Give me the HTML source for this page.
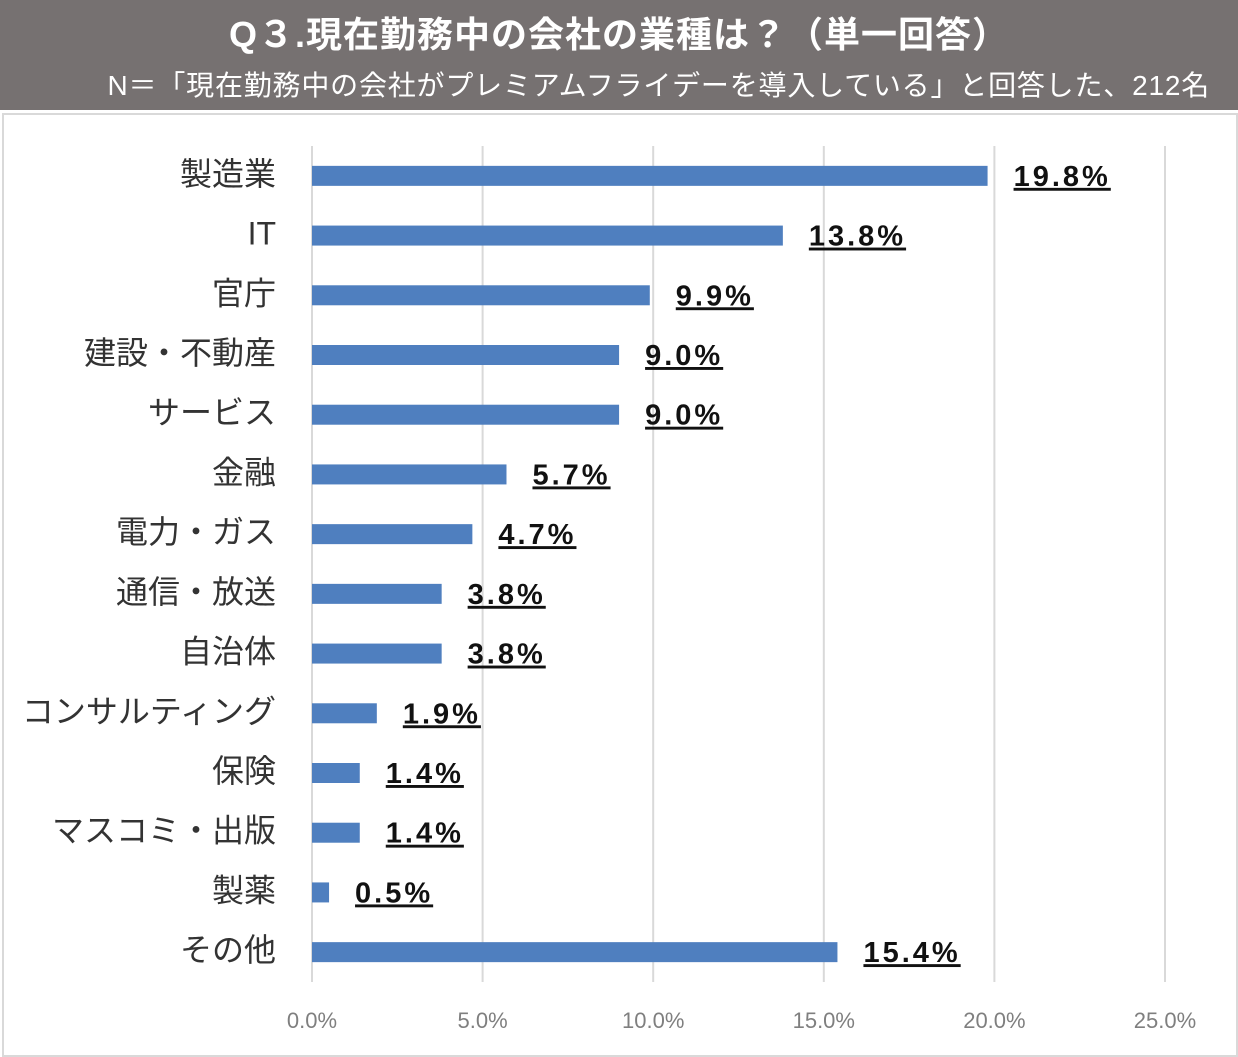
<!DOCTYPE html>
<html><head><meta charset="utf-8">
<style>
body{margin:0;width:1238px;height:1057px;background:#fff;overflow:hidden;font-family:"Liberation Sans","Noto Sans CJK JP",sans-serif;}
#hdr{position:absolute;left:0;top:0;width:1238px;height:110px;background:#767171;color:#fff;}
#title{position:absolute;top:6px;width:100%;text-align:center;font-size:36px;font-weight:bold;letter-spacing:1px;}
#sub{position:absolute;top:64px;right:28px;font-size:28px;letter-spacing:0.8px;white-space:nowrap;}
#frame{position:absolute;left:2px;top:113px;width:1232px;height:940px;border:2px solid #d9d9d9;}
</style></head><body>
<div id="hdr">
<div id="title">Q３.現在勤務中の会社の業種は？（単一回答）</div>
<div id="sub">N＝「現在勤務中の会社がプレミアムフライデーを導入している」と回答した、212名</div>
</div>
<div id="frame"></div>
<svg id="chart" width="1238" height="1057" style="position:absolute;left:0;top:0"></svg>
<script>
const categories=["製造業","IT","官庁","建設・不動産","サービス","金融","電力・ガス","通信・放送","自治体","コンサルティング","保険","マスコミ・出版","製薬","その他"];
const values=[19.8,13.8,9.9,9.0,9.0,5.7,4.7,3.8,3.8,1.9,1.4,1.4,0.5,15.4];
const valueLabels=["19.8%","13.8%","9.9%","9.0%","9.0%","5.7%","4.7%","3.8%","3.8%","1.9%","1.4%","1.4%","0.5%","15.4%"];
const ticks=[0,5,10,15,20,25];
const tickLabels=["0.0%","5.0%","10.0%","15.0%","20.0%","25.0%"];
const svg=document.getElementById('chart');
const NS='http://www.w3.org/2000/svg';
const x0=312,x1=1165,xmax=25,yTop=146,yBot=982;
const xs=v=>x0+(x1-x0)*v/xmax;
const band=(yBot-yTop)/categories.length;
const yc=i=>yTop+band*(i+0.5);
function mk(t,a){const e=document.createElementNS(NS,t);for(const k in a)e.setAttribute(k,a[k]);svg.appendChild(e);return e;}
ticks.forEach((t,i)=>{
 const g=mk('line',{x1:xs(t),x2:xs(t),y1:yTop,y2:yBot,stroke:'#d9d9d9','stroke-width':2});
 
 
 const l=mk('text',{x:xs(t),y:1028,'text-anchor':'middle','font-size':22,fill:'#7f7f7f'});
 l.textContent=tickLabels[i];
 
 
});
categories.forEach((c,i)=>{
 const y=yc(i);
 const b=mk('rect',{x:x0,y:y-10,width:xs(values[i])-x0,height:20,fill:'#4f7fbf'});
 
 
 const l=mk('text',{x:276,y:y+9,'text-anchor':'end','font-size':32,fill:'#333'});
 l.textContent=c;
 
 
 const v=mk('text',{x:xs(values[i])+26,y:y+10,'font-size':29,'font-weight':'bold',fill:'#111','text-decoration':'underline','letter-spacing':3});
 v.textContent=valueLabels[i];
 
 
});
</script>
</body></html>
